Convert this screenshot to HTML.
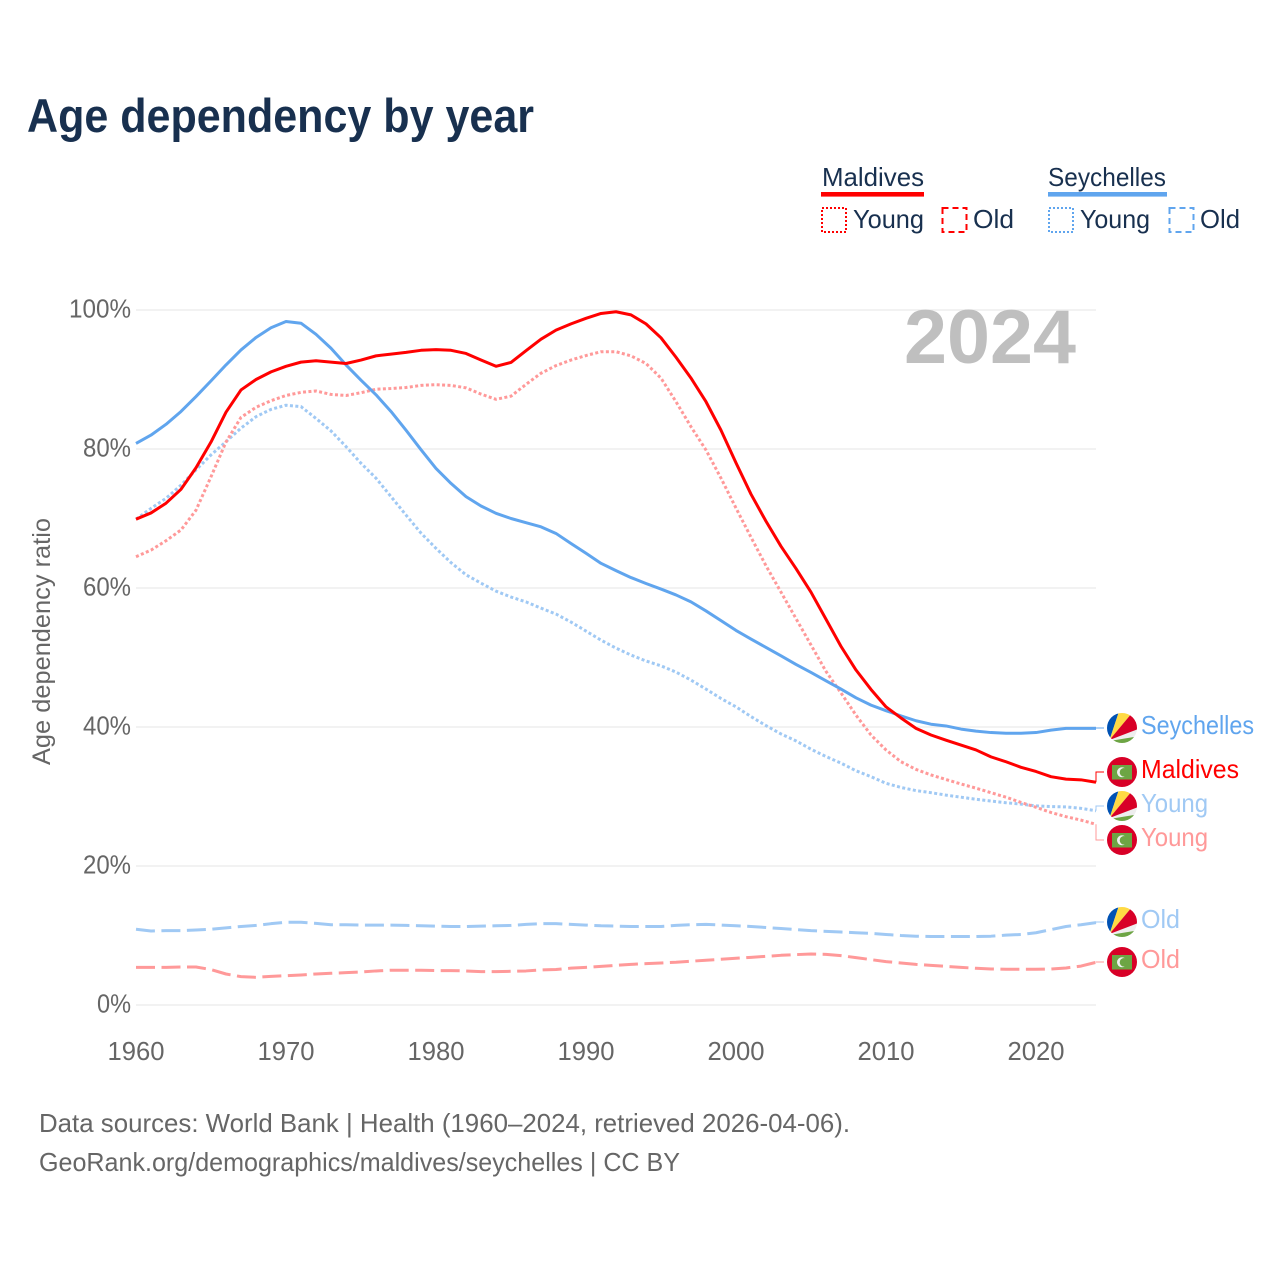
<!DOCTYPE html>
<html lang="en">
<head>
<meta charset="utf-8">
<title>Age dependency by year</title>
<style>
html,body{margin:0;padding:0;background:#fff;width:1280px;height:1280px;overflow:hidden}
svg{display:block}
text{font-family:"Liberation Sans",sans-serif}
</style>
</head>
<body>
<svg id="chart" xmlns="http://www.w3.org/2000/svg" width="1280" height="1280" viewBox="0 0 1280 1280">
<defs>
<clipPath id="flag-clip"><circle cx="15" cy="15" r="15"/></clipPath>
<g id="flag-sc" clip-path="url(#flag-clip)">
<rect width="30" height="30" fill="#eeeeee"/>
<polygon points="2.5,27 0,27 0,0 11.5,0" fill="#0052b4"/>
<polygon points="2.5,27 11.5,0 25,0" fill="#ffda44"/>
<polygon points="2.5,27 25,0 30,0 30,16.5" fill="#d80027"/>
<polygon points="2.5,28 30,23.5 30,30 0,30 0,28" fill="#6da544"/>
</g>
<g id="flag-mv" clip-path="url(#flag-clip)">
<rect width="30" height="30" fill="#d80027"/>
<rect x="5" y="8" width="20" height="14.5" fill="#6da544"/>
<circle cx="15" cy="15.3" r="5" fill="#f0f0f0"/>
<circle cx="17" cy="15.3" r="4.3" fill="#6da544"/>
</g>
</defs>

<rect width="1280" height="1280" fill="#fff"/>
<text x="27" y="132" font-size="47" font-weight="700" fill="#18304f" textLength="507" lengthAdjust="spacingAndGlyphs">Age dependency by year</text>

<g font-size="26" fill="#18304f">
<text x="822" y="186" textLength="102" lengthAdjust="spacingAndGlyphs">Maldives</text>
<rect x="821" y="192" width="103" height="4.6" fill="#ff0000"/>
<rect x="822" y="208" width="24" height="24" fill="none" stroke="#ff0000" stroke-width="2" stroke-dasharray="2 2"/>
<text x="853" y="228" textLength="71" lengthAdjust="spacingAndGlyphs">Young</text>
<rect x="942.5" y="208" width="24" height="24" fill="none" stroke="#ff0000" stroke-width="2" stroke-dasharray="6 4"/>
<text x="973" y="228" textLength="41" lengthAdjust="spacingAndGlyphs">Old</text>
<text x="1048" y="186" textLength="118" lengthAdjust="spacingAndGlyphs">Seychelles</text>
<rect x="1048" y="192" width="119" height="4.6" fill="#60a5ee"/>
<rect x="1049" y="208" width="24" height="24" fill="none" stroke="#60a5ee" stroke-width="2" stroke-dasharray="2 2"/>
<text x="1080" y="228" textLength="70" lengthAdjust="spacingAndGlyphs">Young</text>
<rect x="1169.5" y="208" width="24" height="24" fill="none" stroke="#60a5ee" stroke-width="2" stroke-dasharray="6 4"/>
<text x="1200" y="228" textLength="40" lengthAdjust="spacingAndGlyphs">Old</text>
</g>

<g id="grid"></g>
<g id="y-ticks"></g>
<g id="x-ticks"></g>
<text transform="translate(50,641.5) rotate(-90)" text-anchor="middle" font-size="25" fill="#666666" textLength="247" lengthAdjust="spacingAndGlyphs">Age dependency ratio</text>

<text x="904" y="363" font-size="76" font-weight="700" fill="#bfbfbf" textLength="172" lengthAdjust="spacingAndGlyphs">2024</text>

<g id="series"></g>
<g id="connectors"></g>

<g font-size="26">
<use href="#flag-sc" x="1107" y="713"/>
<text x="1141" y="734" fill="#60a5ee" textLength="113" lengthAdjust="spacingAndGlyphs">Seychelles</text>
<use href="#flag-mv" x="1107" y="757"/>
<text x="1141" y="778" fill="#ff0000" textLength="98" lengthAdjust="spacingAndGlyphs">Maldives</text>
<use href="#flag-sc" x="1107" y="791"/>
<text x="1141" y="812" fill="#a0c9f4" textLength="67" lengthAdjust="spacingAndGlyphs">Young</text>
<use href="#flag-mv" x="1107" y="825"/>
<text x="1141" y="846" fill="#ff9999" textLength="67" lengthAdjust="spacingAndGlyphs">Young</text>
<use href="#flag-sc" x="1107" y="907"/>
<text x="1141" y="928" fill="#a0c9f4" textLength="39" lengthAdjust="spacingAndGlyphs">Old</text>
<use href="#flag-mv" x="1107" y="947"/>
<text x="1141" y="968" fill="#ff9999" textLength="39" lengthAdjust="spacingAndGlyphs">Old</text>
</g>

<g font-size="26" fill="#666666">
<text x="39" y="1132" textLength="811" lengthAdjust="spacingAndGlyphs">Data sources: World Bank | Health (1960–2024, retrieved 2026-04-06).</text>
<text x="39" y="1171" textLength="641" lengthAdjust="spacingAndGlyphs">GeoRank.org/demographics/maldives/seychelles | CC BY</text>
</g>
</svg>

<script>
const startYear = 1960;
const yTickValues = [0, 20, 40, 60, 80, 100];
const xTickValues = [1960, 1970, 1980, 1990, 2000, 2010, 2020];

const maldivesTotal = [69.9,70.8,72.2,74.2,77.3,81,85.3,88.5,90,91.1,91.9,92.5,92.7,92.5,92.3,92.8,93.4,93.65,93.9,94.2,94.3,94.2,93.75,92.8,91.9,92.45,94.15,95.8,97.1,98,98.8,99.5,99.75,99.3,98,96,93.2,90.2,86.8,82.7,78,73.5,69.6,66,62.8,59.4,55.5,51.6,48.2,45.4,42.9,41.3,39.8,38.85,38.1,37.4,36.7,35.7,35,34.2,33.6,32.85,32.5,32.4,32.05];
const seychellesTotal = [80.8,82,83.55,85.4,87.55,89.8,92.1,94.25,96.05,97.45,98.35,98.1,96.5,94.5,92.1,89.9,87.8,85.4,82.7,79.9,77.2,75.05,73.15,71.8,70.75,70,69.4,68.8,67.85,66.4,65,63.55,62.5,61.5,60.65,59.85,59,58,56.7,55.3,53.9,52.65,51.45,50.25,49,47.85,46.65,45.45,44.2,43.15,42.35,41.6,40.9,40.4,40.15,39.7,39.4,39.2,39.1,39.1,39.2,39.55,39.8,39.8,39.8];
const maldivesYoung = [64.5,65.45,66.8,68.35,71.2,76,81,84.55,86,86.95,87.7,88.15,88.35,87.85,87.7,88.1,88.6,88.7,88.85,89.15,89.25,89.15,88.8,87.9,87.15,87.6,89.3,90.9,92,92.8,93.45,94,94,93.4,92.3,90.2,86.8,83.2,79.85,75.8,71.5,67.3,63.2,59.4,55.6,51.8,48,44.9,41.7,38.85,36.7,35,33.9,33.1,32.45,31.8,31.2,30.55,29.9,29.15,28.45,27.7,27.1,26.6,26];
const seychellesYoung = [69.9,71.45,72.9,74.8,77,79.15,81.05,83,84.65,85.7,86.3,86.1,84.4,82.6,80.35,77.95,75.8,73.15,70.5,67.9,65.7,63.65,61.9,60.7,59.55,58.7,58,57.1,56.25,55.1,53.8,52.5,51.35,50.35,49.5,48.8,47.9,46.75,45.45,44.1,42.9,41.5,40.2,39,38,36.8,35.75,34.8,33.7,32.85,31.9,31.3,30.85,30.55,30.2,29.9,29.6,29.35,29.1,28.9,28.65,28.55,28.5,28.3,27.95];
const maldivesOld = [5.42,5.42,5.42,5.47,5.47,5.1,4.46,4.08,3.98,4.12,4.22,4.32,4.46,4.56,4.65,4.75,4.9,5,5,5,4.95,4.95,4.9,4.8,4.8,4.85,4.9,5.05,5.1,5.3,5.42,5.56,5.7,5.85,5.95,6.05,6.15,6.3,6.44,6.58,6.72,6.86,7,7.15,7.25,7.34,7.29,7.1,6.82,6.53,6.24,6.05,5.85,5.7,5.56,5.42,5.28,5.18,5.14,5.14,5.14,5.18,5.33,5.6,6.14];
const seychellesOld = [10.9,10.65,10.7,10.7,10.8,10.9,11.1,11.3,11.45,11.7,11.9,11.9,11.75,11.55,11.55,11.5,11.5,11.5,11.45,11.4,11.35,11.3,11.3,11.35,11.4,11.45,11.6,11.7,11.7,11.6,11.5,11.4,11.35,11.3,11.3,11.3,11.45,11.55,11.6,11.5,11.4,11.3,11.15,11,10.85,10.7,10.6,10.5,10.4,10.3,10.15,10,9.9,9.85,9.85,9.85,9.85,9.9,10.05,10.15,10.4,10.85,11.3,11.55,11.85];

const NS = 'http://www.w3.org/2000/svg';
function xScale(year) { return 136 + (year - 1960) * 15; }
function yScale(v) { return 1005 - v * 6.95; }

const gridG = document.getElementById('grid');
const yG = document.getElementById('y-ticks');
const xG = document.getElementById('x-ticks');
const seriesG = document.getElementById('series');
const connG = document.getElementById('connectors');

yTickValues.forEach(function (v) {
  const gl = document.createElementNS(NS, 'line');
  
  
  gl.setAttribute('x1', xScale(1960));
  gl.setAttribute('x2', xScale(2024));
  gl.setAttribute('y1', yScale(v));
  gl.setAttribute('y2', yScale(v));
  gl.setAttribute('stroke', '#ebebeb');
  gl.setAttribute('stroke-width', '1.3');
  gridG.appendChild(gl);
  const t = document.createElementNS(NS, 'text');
  
  
  t.setAttribute('x', 131);
  t.setAttribute('y', yScale(v) + 7.5);
  t.setAttribute('text-anchor', 'end');
  t.setAttribute('font-size', '26');
  t.setAttribute('fill', '#666666');
  t.setAttribute('textLength', String(v).length * 14 + 20);
  t.setAttribute('lengthAdjust', 'spacingAndGlyphs');
  t.textContent = v + '%';
  yG.appendChild(t);
});

xTickValues.forEach(function (year) {
  const t = document.createElementNS(NS, 'text');
  
  
  t.setAttribute('x', xScale(year));
  t.setAttribute('y', 1060);
  t.setAttribute('text-anchor', 'middle');
  t.setAttribute('font-size', '26');
  t.setAttribute('fill', '#666666');
  t.setAttribute('textLength', '57');
  t.setAttribute('lengthAdjust', 'spacingAndGlyphs');
  t.textContent = year;
  xG.appendChild(t);
});

function drawSeries(values, name, color, dash) {
  const p = document.createElementNS(NS, 'polyline');
  
  
  p.setAttribute('points', values.map(function (v, i) {
    return xScale(startYear + i).toFixed(1) + ',' + yScale(v).toFixed(2);
  }).join(' '));
  p.setAttribute('fill', 'none');
  p.setAttribute('stroke', color);
  p.setAttribute('stroke-width', '3');
  p.setAttribute('stroke-linejoin', 'round');
  if (dash) p.setAttribute('stroke-dasharray', dash);
  seriesG.appendChild(p);
}

function drawConnector(values, labelY, name, color) {
  const last = values[values.length - 1];
  const p = document.createElementNS(NS, 'polyline');
  
  
  const ex = xScale(startYear + values.length - 1);
  p.setAttribute('points', ex + ',' + yScale(last).toFixed(2) + ' ' + ex + ',' + labelY + ' 1104,' + labelY);
  p.setAttribute('fill', 'none');
  p.setAttribute('stroke', color);
  p.setAttribute('stroke-width', '1');
  connG.appendChild(p);
}

drawSeries(seychellesOld, 'line-seychelles-old', '#a0c9f4', '19 6.5');
drawSeries(maldivesOld, 'line-maldives-old', '#ff9999', '19 6.5');
drawSeries(seychellesYoung, 'line-seychelles-young', '#a0c9f4', '3 2.4');
drawSeries(maldivesYoung, 'line-maldives-young', '#ff9999', '3 2.4');
drawSeries(seychellesTotal, 'line-seychelles-total', '#60a5ee', null);
drawSeries(maldivesTotal, 'line-maldives-total', '#ff0000', null);

drawConnector(seychellesTotal, 728, 'connector-seychelles-total', '#60a5ee');
drawConnector(maldivesTotal, 772, 'connector-maldives-total', '#ff0000');
drawConnector(seychellesYoung, 806, 'connector-seychelles-young', '#a0c9f4');
drawConnector(maldivesYoung, 840, 'connector-maldives-young', '#ff9999');
drawConnector(seychellesOld, 922, 'connector-seychelles-old', '#a0c9f4');
drawConnector(maldivesOld, 962, 'connector-maldives-old', '#ff9999');
</script>
</body>
</html>
